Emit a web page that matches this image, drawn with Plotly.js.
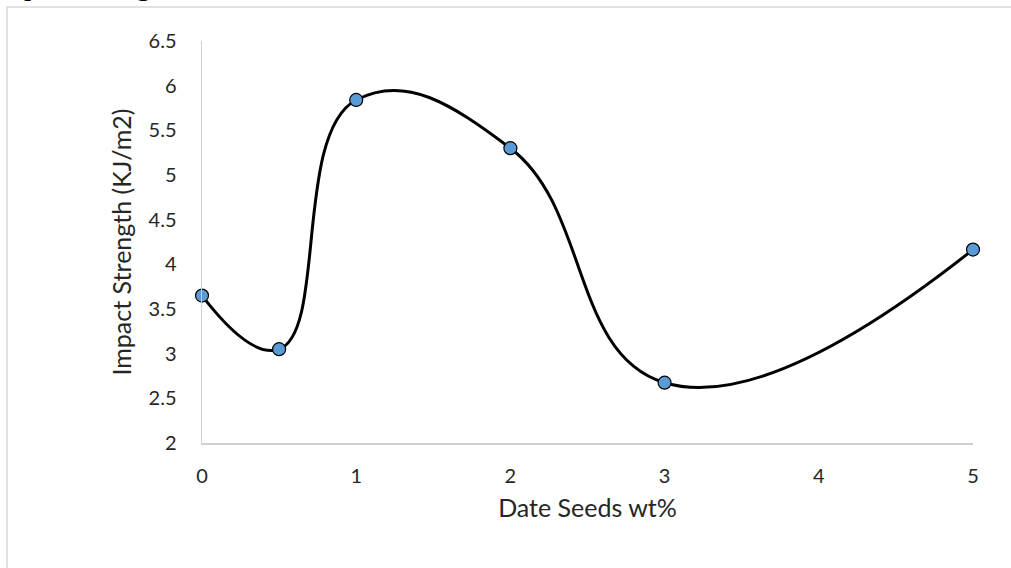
<!DOCTYPE html>
<html>
<head>
<meta charset="utf-8">
<script src="https://cdn.plot.ly/plotly-3.0.1.min.js"></script>
<style>
  html, body { margin: 0; padding: 0; background: #ffffff; overflow: hidden; }
  #chart { width: 1011px; height: 568px; }
</style>
</head>
<body>
<div id="chart"></div>
<script>
// Data
const dateSeedsWt = [0, 0.5, 1, 2, 3, 5];
const impactStrength = [3.65, 3.05, 5.84, 5.30, 2.675, 4.165];
const xTickVals = [0, 1, 2, 3, 4, 5];
const xTickText = ["0", "1", "2", "3", "4", "5"];
const yTickVals = [2, 2.5, 3, 3.5, 4, 4.5, 5, 5.5, 6, 6.5];
const yTickText = ["2", "2.5", "3", "3.5", "4", "4.5", "5", "5.5", "6", "6.5"];
const captionText = "pact strength [43, 45].";
const xTitle = "Date Seeds wt%";
const yTitle = "Impact Strength (KJ/m2)";

const W = 1011, H = 568;
const M = { l: 202, r: 38, t: 41, b: 125 };
const PW = W - M.l - M.r, PH = H - M.t - M.b;
const px2x = p => (p - M.l) / PW;
const px2y = p => (H - M.b - p) / PH;

const FAM = "Lato, 'Open Sans', sans-serif";
const tickFont = { family: FAM, size: 20, color: "#262626" };

const trace = {
  type: "scatter",
  mode: "lines+markers",
  x: dateSeedsWt,
  y: impactStrength,
  cliponaxis: false,
  line: { shape: "spline", smoothing: 1.3, color: "#000000", width: 3 },
  marker: { symbol: "circle", size: 13, color: "#5b9bd5", line: { color: "#000000", width: 1.2 } },
  hoverinfo: "x+y"
};

const layout = {
  width: W, height: H,
  margin: M,
  paper_bgcolor: "#ffffff",
  plot_bgcolor: "#ffffff",
  showlegend: false,
  xaxis: {
    range: [0, 5],
    tickvals: xTickVals, ticktext: xTickText,
    showgrid: false, zeroline: false,
    showline: true, linecolor: "#d0d0d0", linewidth: 1.5,
    ticks: "outside", ticklen: 14, tickcolor: "rgba(0,0,0,0)",
    tickfont: tickFont,
    title: { text: xTitle, font: { family: FAM, size: 25, color: "#262626" }, standoff: 14 },
    automargin: false
  },
  yaxis: {
    range: [2, 6.5],
    tickvals: yTickVals, ticktext: yTickText,
    showgrid: false, zeroline: false,
    showline: true, linecolor: "#d0d0d0", linewidth: 1.5,
    ticks: "outside", ticklen: 20, tickcolor: "rgba(0,0,0,0)",
    tickfont: tickFont,
    title: { text: yTitle, font: { family: FAM, size: 25, color: "#262626" }, standoff: 10 },
    automargin: false
  },
  shapes: [{
    type: "rect", xref: "paper", yref: "paper", layer: "below",
    x0: px2x(7), x1: px2x(W + 20), y0: px2y(H + 20), y1: px2y(7),
    line: { color: "#d9d9d9", width: 1.5 }, fillcolor: "rgba(0,0,0,0)"
  }],
  annotations: [{
    text: captionText, showarrow: false,
    xref: "paper", yref: "paper",
    x: px2x(22), y: px2y(3), xanchor: "left", yanchor: "bottom",
    font: { family: "'Liberation Serif', 'Times New Roman', serif", size: 29, color: "#000000" }
  }]
};

Plotly.newPlot("chart", [trace], layout, { displayModeBar: false, staticPlot: true });
</script>
</body>
</html>
